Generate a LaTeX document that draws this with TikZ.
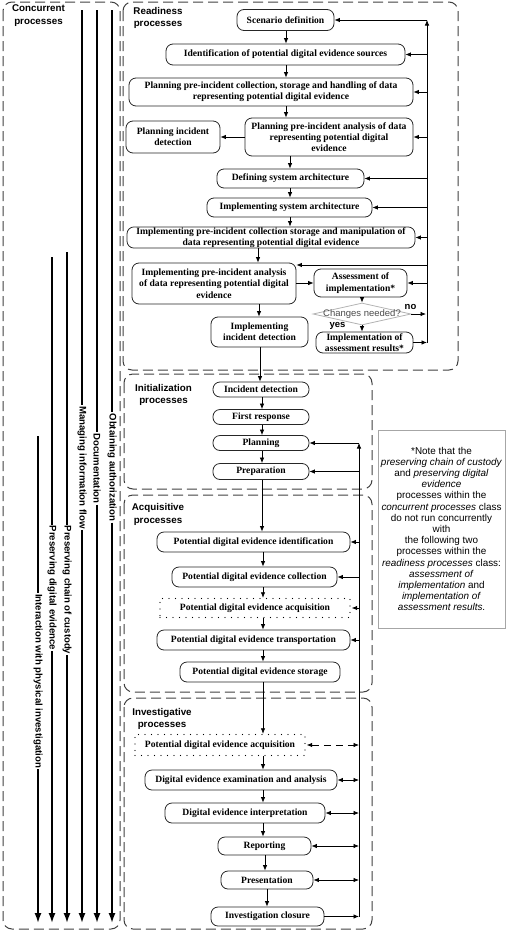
\documentclass[tikz,border=0pt]{standalone}
\usepackage{fontspec}
\setmainfont{Liberation Serif}
\newfontfamily\sansf{Liberation Sans}
\usetikzlibrary{arrows.meta,shapes.geometric}
\begin{document}
\begin{tikzpicture}[x=1pt,y=-1pt,
  arr/.style={-{Latex[length=5.5pt,width=4.5pt]},line width=0.75pt},
  darr/.style={{Latex[length=5.5pt,width=4.5pt]}-{Latex[length=5.5pt,width=4.5pt]},line width=0.75pt},
  proc/.style={draw=black!85,line width=0.8pt,rounded corners=7pt,align=center,inner sep=0.5pt,font=\bfseries\fontsize{9.6}{11.3}\selectfont},
  dotproc/.style={draw,line width=1.4pt,dash pattern=on 0pt off 6.5pt,line cap=round,align=center,inner sep=0.5pt,font=\bfseries\fontsize{9.6}{11.3}\selectfont},
  sz/.style 2 args={minimum width=#1pt,minimum height=#2pt},
  group/.style={draw=black!75,line width=1pt,dash pattern=on 10pt off 5pt,rounded corners=9pt},
  grouplbl/.style={font=\sansf\bfseries\fontsize{9.8}{12.2}\selectfont,align=center,inner sep=0pt},
  conc/.style={line width=1.7pt},
  concarr/.style={line width=1.7pt,-{Latex[length=10pt,width=7pt]}},
  conclbl/.style={font=\sansf\bfseries\fontsize{9.6}{11}\selectfont,rotate=-90,inner sep=1pt},
  notebox/.style={draw=black!35,line width=0.8pt,align=center,inner sep=0pt,font=\sansf\fontsize{9.9}{11.2}\selectfont},
  decision/.style={diamond,draw=black!30,line width=0.8pt,inner sep=0pt},
  declbl/.style={font=\sansf\fontsize{9.5}{11}\selectfont,text=black!70,inner sep=0pt},
  yn/.style={font=\sansf\bfseries\fontsize{9.5}{11}\selectfont,inner sep=0pt}
]
\useasboundingbox (0,0) rectangle (506,932);

% ---------------- groups ----------------
\draw[group] (3,2) rectangle (120,929);
\draw[group] (123,2) rectangle (458,370);
\draw[group] (124,374) rectangle (372,489);
\draw[group] (124,495) rectangle (372,692);
\draw[group] (124,698) rectangle (372,929);

\node[grouplbl] (lconc) at (38.5,15.5) {Concurrent\\processes};
\node[grouplbl] (lread) at (158,17.7) {Readiness\\processes};
\node[grouplbl] (linit) at (163.5,395) {Initialization\\processes};
\node[grouplbl] (lacq) at (158,514.5) {Acquisitive\\processes};
\node[grouplbl] (linv) at (162,719) {Investigative\\processes};

% ---------------- readiness ----------------
\node[proc,sz={97}{21}] (scen) at (285.5,20) {Scenario definition};
\node[proc,sz={239}{21}] (ident) at (285.5,54.5) {Identification of potential digital evidence sources};
\node[proc,sz={284}{28}] (plancoll) at (271,92) {Planning pre-incident collection, storage and handling of data\\representing potential digital evidence};
\node[proc,sz={94}{32}] (planinc) at (173,137) {Planning incident\\detection};
\node[proc,sz={168}{38}] (planana) at (329,137) {Planning pre-incident analysis of data\\representing potential digital\\evidence};
\node[proc,sz={147}{19}] (defsys) at (290.5,178.5) {Defining system architecture};
\node[proc,sz={165}{19}] (impsys) at (289.5,207.5) {Implementing system architecture};
\node[proc,sz={288}{21}] (impcoll) at (271,237.5) {Implementing pre-incident collection storage and manipulation of\\data representing potential digital evidence};
\node[proc,sz={164}{41}] (impana) at (214,283.5) {Implementing pre-incident analysis\\of data representing potential digital\\evidence};
\node[proc,sz={93}{28}] (assess) at (360.5,283) {Assessment of\\implementation*};
\node[decision,sz={98}{22}] (chg) at (362,314) {};
\node[declbl] (chgtxt) at (chg) {Changes needed?};
\node[proc,sz={97}{21}] (impres) at (364.5,342.5) {Implementation of\\assessment results*};
\node[proc,sz={97}{30}] (impinc) at (259.5,332) {Implementing\\incident detection};
\node[yn] (no) at (410.5,307) {no};
\node[yn] (yes) at (337.5,325.5) {yes};

\draw[arr] (286,0 |- scen.south) -- (286,0 |- ident.north);
\draw[arr] (286,0 |- ident.south) -- (286,0 |- plancoll.north);
\draw[arr] (286,0 |- plancoll.south) -- (286,0 |- planana.north);
\draw[arr] (290,0 |- planana.south) -- (290,0 |- defsys.north);
\draw[arr] (290,0 |- defsys.south) -- (290,0 |- impsys.north);
\draw[arr] (290,0 |- impsys.south) -- (290,0 |- impcoll.north);
\draw[arr] (258,0 |- impcoll.south) -- (258,0 |- impana.north);
\draw[arr] (259,0 |- impana.south) -- (259,0 |- impinc.north);
\draw[arr] (planana.west) -- (planinc.east);
\draw[arr] (impana.east |- assess.west) -- (assess.west);
\draw[arr] (362,0 |- assess.south) -- (chg.north);
\draw[arr] (chg.south) -- (362,0 |- impres.north);

% feedback line
\coordinate (fbtop) at (427,0 |- scen.east);
\coordinate (fbbot) at (427,0 |- impres.east);
\draw[arr] (impres.east) -- (fbbot);
\draw[arr] (fbbot) -- (fbtop);
\draw[arr] (fbtop) -- (scen.east);
\draw[arr] (427,0 |- ident.east) -- (ident.east);
\draw[arr] (427,0 |- plancoll.east) -- (plancoll.east);
\draw[arr] (427,0 |- planana.east) -- (planana.east);
\draw[arr] (427,0 |- defsys.east) -- (defsys.east);
\draw[arr] (427,0 |- impsys.east) -- (impsys.east);
\draw[arr] (427,0 |- impcoll.east) -- (impcoll.east);
\draw[arr] (427,265) -- (impana.east |- 0,265);
\draw[arr] (427,0 |- assess.east) -- (assess.east);
\draw[arr] (chg.east) -- (426,0 |- chg.east);

% ---------------- initialization ----------------
\node[proc,sz={96}{15}] (incdet) at (261,389.5) {Incident detection};
\node[proc,sz={96}{15}] (first) at (261,417) {First response};
\node[proc,sz={96}{15}] (plan) at (261,443) {Planning};
\node[proc,sz={96}{16}] (prep) at (261,471.5) {Preparation};

\draw[arr] (260,0 |- impinc.south) -- (260,0 |- incdet.north);
\draw[arr] (262,0 |- incdet.south) -- (262,0 |- first.north);
\draw[arr] (262,0 |- first.south) -- (262,0 |- plan.north);
\draw[arr] (262,0 |- plan.south) -- (262,0 |- prep.north);

% ---------------- acquisitive ----------------
\node[proc,sz={193}{20}] (pdeid) at (253.5,542) {Potential digital evidence identification};
\node[proc,sz={165}{20}] (pdecol) at (254.5,577) {Potential digital evidence collection};
\node[dotproc,sz={190}{19}] (pdeacqa) at (255,608) {Potential digital evidence acquisition};
\node[proc,sz={193}{20}] (pdetr) at (253.5,640) {Potential digital evidence transportation};
\node[proc,sz={160}{20}] (pdest) at (260,672) {Potential digital evidence storage};

\draw[arr] (262,0 |- prep.south) -- (262,0 |- pdeid.north);
\draw[arr] (263,0 |- pdeid.south) -- (263,0 |- pdecol.north);
\draw[arr] (263,0 |- pdecol.south) -- (263,0 |- pdeacqa.north);
\draw[arr] (263,0 |- pdeacqa.south) -- (263,0 |- pdetr.north);
\draw[arr] (263,0 |- pdetr.south) -- (263,0 |- pdest.north);

% ---------------- investigative ----------------
\node[dotproc,sz={170}{21}] (pdeacqb) at (220,745) {Potential digital evidence acquisition};
\node[proc,sz={192}{20}] (exam) at (241,780) {Digital evidence examination and analysis};
\node[proc,sz={160}{20}] (interp) at (245,813) {Digital evidence interpretation};
\node[proc,sz={93}{18}] (report) at (264.5,846) {Reporting};
\node[proc,sz={92}{18}] (present) at (267,880) {Presentation};
\node[proc,sz={113}{19}] (closure) at (267.5,916.5) {Investigation closure};

\draw[arr] (263,0 |- pdest.south) -- (263,0 |- pdeacqb.north);
\draw[arr] (263,0 |- pdeacqb.south) -- (263,0 |- exam.north);
\draw[arr] (263,0 |- exam.south) -- (263,0 |- interp.north);
\draw[arr] (263,0 |- interp.south) -- (263,0 |- report.north);
\draw[arr] (265,0 |- report.south) -- (265,0 |- present.north);
\draw[arr] (267,0 |- present.south) -- (267,0 |- closure.north);

% line at x=359
\coordinate (iltop) at (359,0 |- plan.east);
\coordinate (ilbot) at (359,0 |- closure.east);
\draw[arr] (closure.east) -- (ilbot);
\draw[arr] (ilbot) -- (iltop);
\draw[arr] (iltop) -- (plan.east);
\draw[arr] (359,0 |- prep.east) -- (prep.east);
\draw[arr] (359,0 |- pdeid.east) -- (pdeid.east);
\draw[arr] (359,0 |- pdecol.east) -- (pdecol.east);
\draw[arr] (359,0 |- pdeacqa.east) -- ([xshift=1pt]pdeacqa.east);
\draw[arr] (359,0 |- pdetr.east) -- (pdetr.east);
\draw[darr,dash pattern=on 7pt off 5pt] ([xshift=1pt]pdeacqb.east) -- (359,0 |- pdeacqb.east);
\draw[darr] (exam.east) -- (359,0 |- exam.east);
\draw[darr] (interp.east) -- (359,0 |- interp.east);
\draw[darr] (report.east) -- (359,0 |- report.east);
\draw[darr] (present.east) -- (359,0 |- present.east);

% ---------------- note ----------------
\node[notebox,sz={127}{198}] (note) at (441.5,529) {*Note that the\\\textit{preserving chain of custody}\\and \textit{preserving digital}\\\textit{evidence}\\processes within the\\\textit{concurrent processes} class\\do not run concurrently\\with\\the following two\\processes within the\\\textit{readiness processes} class:\\\textit{assessment of}\\\textit{implementation} and\\\textit{implementation of}\\\textit{assessment results}.};

% ---------------- concurrent lines ----------------
\coordinate (t1) at (112,10);
\coordinate (t2) at (97,10);
\coordinate (t3) at (82,10);
\coordinate (t4) at (67,252);
\coordinate (t5) at (52,257);
\coordinate (t6) at (38,436);
\coordinate (b1) at (112,923);
\coordinate (b2) at (97,923);
\coordinate (b3) at (82,923);
\coordinate (b4) at (67,923);
\coordinate (b5) at (52,923);
\coordinate (b6) at (38,923);
\node[conclbl] (c1) at (112,467.5) {Obtaining authorization};
\node[conclbl] (c2) at (97,468.5) {Documentation};
\node[conclbl] (c3) at (82,467.5) {Managing information flow};
\node[conclbl] (c4) at (67,590) {Preserving chain of custody};
\node[conclbl] (c5) at (52,588) {Preserving digital evidence};
\node[conclbl] (c6) at (38,681) {Interaction with physical investigation};
\foreach \i in {1,...,6}{
  \draw[conc] (t\i) -- (c\i.west);
  \draw[concarr] (c\i.east) -- (b\i);
}
\end{tikzpicture}
\end{document}
